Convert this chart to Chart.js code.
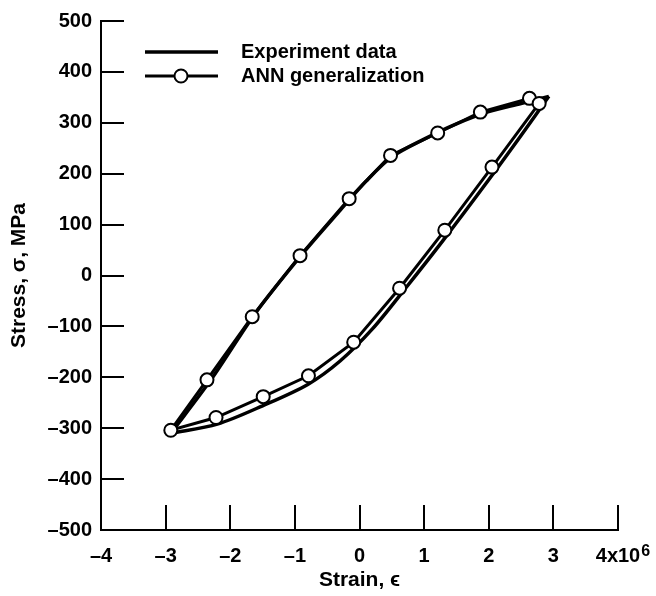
<!DOCTYPE html>
<html>
<head>
<meta charset="utf-8">
<script src="https://cdn.jsdelivr.net/npm/chart.js@4.4.1/dist/chart.umd.min.js"></script>
<style>
  html, body { margin: 0; padding: 0; background: #fff; }
</style>
</head>
<body>
<canvas id="c" width="656" height="596"></canvas>
<script>
// hysteresis loop, strain in units of 1e-6 ...
const strainExpUpper = [2.93, 2.5, 2.0, 1.5, 1.0, 0.5, 0.1, -0.3, -0.9, -1.6, -2.3, -2.92];
const stressExpUpper = [352, 338, 322, 298, 268, 233, 185, 128, 40, -72, -205, -310];
const strainExpLower = [-2.92, -2.2, -1.5, -0.8, -0.3, 0.2, 0.7, 1.3, 2.0, 2.5, 2.93];
const stressExpLower = [-310, -292, -256, -214, -168, -105, -27, 70, 188, 275, 352];

const strainAnn = [2.63, 1.87, 1.21, 0.48, -0.16, -0.92, -1.66, -2.36, -2.92, -2.22, -1.49, -0.79, -0.09, 0.62, 1.32, 2.05, 2.78];
const stressAnn = [348, 321, 280, 236, 151, 39, -81, -205, -304, -279, -238, -197, -131, -25, 89, 213, 338];

const xTickLabels = ['–4', '–3', '–2', '–1', '0', '1', '2', '3', '4x10'];
const xExponent = '6';
const legendLabels = ['Experiment data', 'ANN generalization'];

const toPts = (xs, ys) => xs.map((x, i) => ({ x, y: ys[i] }));
const fontFam = '"Liberation Sans", Arial, Helvetica, sans-serif';

Chart.defaults.font.family = fontFam;
Chart.defaults.font.weight = 'bold';
Chart.defaults.font.size = 20;
Chart.defaults.color = '#000';

// ticks on this plot point inward
const inwardTicks = {
  id: 'inwardTicks',
  afterDatasetsDraw(chart) {
    const { ctx, chartArea: a, scales: { x, y } } = chart;
    ctx.save();
    ctx.strokeStyle = '#000';
    ctx.lineWidth = 2;
    ctx.beginPath();
    y.ticks.forEach(t => {
      if (t.value === y.min) return;
      const py = Math.round(y.getPixelForValue(t.value));
      ctx.moveTo(a.left, py); ctx.lineTo(a.left + 23, py);
    });
    x.ticks.forEach(t => {
      if (t.value === x.min) return;
      const px = Math.round(x.getPixelForValue(t.value));
      ctx.moveTo(px, a.bottom); ctx.lineTo(px, a.bottom - 25);
    });
    ctx.stroke();

    // the x10^6 exponent next to the last tick label
    const last = x.ticks[x.ticks.length - 1];
    ctx.font = 'bold 20px ' + fontFam;
    const w = ctx.measureText(xTickLabels[xTickLabels.length - 1]).width;
    ctx.font = 'bold 16px ' + fontFam;
    ctx.fillStyle = '#000';
    ctx.textBaseline = 'alphabetic';
    ctx.fillText(xExponent, x.getPixelForValue(last.value) + w / 2 + 1, a.bottom + 26);
    ctx.restore();
  }
};

// hand drawn legend, line + marker like the original
const plotLegend = {
  id: 'plotLegend',
  afterDraw(chart) {
    const ctx = chart.ctx;
    const x0 = 145, x1 = 218, tx = 241, rows = [52, 76];
    ctx.save();
    ctx.strokeStyle = '#000';
    ctx.lineWidth = 3.5;
    ctx.beginPath(); ctx.moveTo(x0, rows[0]); ctx.lineTo(x1, rows[0]); ctx.stroke();
    ctx.lineWidth = 3;
    ctx.beginPath(); ctx.moveTo(x0, rows[1]); ctx.lineTo(x1, rows[1]); ctx.stroke();
    ctx.beginPath(); ctx.arc(181, rows[1], 6.5, 0, Math.PI * 2);
    ctx.fillStyle = '#fff'; ctx.fill();
    ctx.lineWidth = 2; ctx.stroke();
    ctx.fillStyle = '#000';
    ctx.font = 'bold 20px ' + fontFam;
    ctx.textBaseline = 'middle';
    legendLabels.forEach((s, i) => ctx.fillText(s, tx, rows[i]));
    ctx.restore();
  }
};

new Chart(document.getElementById('c'), {
  type: 'scatter',
  data: {
    datasets: [
      { label: legendLabels[1], data: toPts(strainAnn, stressAnn), showLine: true,
        borderColor: '#000', borderWidth: 3, tension: 0,
        pointRadius: 6.5, pointBorderWidth: 2, pointBackgroundColor: '#fff', pointBorderColor: '#000' },
      { label: legendLabels[0], data: toPts(strainExpUpper, stressExpUpper), showLine: true,
        borderColor: '#000', borderWidth: 3.5, tension: 0.3, pointRadius: 0 },
      { label: legendLabels[0], data: toPts(strainExpLower, stressExpLower), showLine: true,
        borderColor: '#000', borderWidth: 3.5, tension: 0.3, pointRadius: 0 }
    ]
  },
  options: {
    responsive: false,
    animation: false,
    layout: { padding: { top: 13, right: 38, left: 0, bottom: 0 } },
    plugins: { legend: { display: false }, tooltip: { enabled: false } },
    scales: {
      x: {
        min: -4, max: 4,
        grid: { display: false, drawTicks: false },
        border: { display: true, color: '#000', width: 2 },
        ticks: { stepSize: 1, padding: 14, maxRotation: 0, autoSkip: false,
          callback: (v, i) => xTickLabels[i] },
        title: { display: true, text: 'Strain, ϵ', font: { size: 21 }, padding: { top: 0, bottom: 3 } },
        afterFit: s => { s.height = 66; }
      },
      y: {
        min: -500, max: 500,
        grid: { display: false, drawTicks: false },
        border: { display: true, color: '#000', width: 2 },
        ticks: { stepSize: 100, padding: 9,
          callback: v => v < 0 ? '–' + Math.abs(v) : String(v) },
        title: { display: true, text: 'Stress, σ, MPa', font: { size: 21 }, padding: { top: 7, bottom: 0 } },
        afterFit: s => { s.width = 101; }
      }
    }
  },
  plugins: [inwardTicks, plotLegend]
});
</script>
</body>
</html>
